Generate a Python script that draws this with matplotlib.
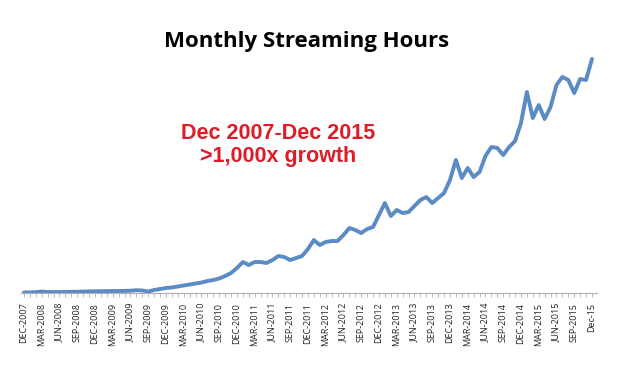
import matplotlib
matplotlib.use("Agg")
import matplotlib.pyplot as plt

# monthly streaming hours (relative units), Dec 2007 .. Dec 2015
hours = [0.5, 0.6, 0.8, 1.5, 1.0, 0.9, 1.0, 1.1, 1.2, 1.3, 1.4, 1.6,
         1.8, 1.8, 1.9, 2.0, 2.0, 2.1, 2.3, 2.8, 2.5, 1.5, 3, 4,
         5, 5.5, 6.5, 7.5, 8.5, 9.5, 10.5, 12, 13, 14.5, 17, 20,
         25, 31, 28, 31, 31, 30, 33, 37, 36, 33, 35, 37,
         44, 53, 48, 51, 52, 52, 58, 65, 63, 60, 64, 66,
         78, 90, 77, 83, 80, 81, 87, 93, 96, 90, 95, 100,
         113, 133, 115, 125, 116, 121, 137, 146, 145, 138, 146, 152,
         170, 201, 175, 188, 174, 186, 208, 216, 213, 200, 214, 213,
         234]

tick_labels = ["DEC-2007", "MAR-2008", "JUN-2008", "SEP-2008",
               "DEC-2008", "MAR-2009", "JUN-2009", "SEP-2009",
               "DEC-2009", "MAR-2010", "JUN-2010", "SEP-2010",
               "DEC-2010", "MAR-2011", "JUN-2011", "SEP-2011",
               "DEC-2011", "MAR-2012", "JUN-2012", "SEP-2012",
               "DEC-2012", "MAR-2013", "JUN-2013", "SEP-2013",
               "DEC-2013", "MAR-2014", "JUN-2014", "SEP-2014",
               "DEC-2014", "MAR-2015", "JUN-2015", "SEP-2015",
               "Dec-15"]

months = list(range(len(hours)))

fig = plt.figure(figsize=(6.17, 3.67), dpi=100)
ax = fig.add_axes([21 / 617, 0.2016, 576 / 617, 0.654])

ax.plot(months, hours, color="#5B8BC4", linewidth=2.8, solid_capstyle="round")

ax.set_xlim(-0.5, 96.85)
ax.set_ylim(0, 240)

for s in ["top", "right", "left"]:
    ax.spines[s].set_visible(False)
ax.spines["bottom"].set_color("#b0b0b0")
ax.spines["bottom"].set_linewidth(0.8)

ax.set_yticks([])
ax.set_xticks(range(0, 97, 3))
ax.set_xticklabels(tick_labels, rotation=90, fontsize=6.5, color="#222222",
                   family=["Liberation Sans Narrow", "Open Sans"])
ax.set_xticks(range(0, 97), minor=True)
ax.tick_params(axis="x", which="both", length=3, color="#b0b0b0", width=0.6, pad=4)

fig.text(0.497, 1 - 41 / 367, "Monthly Streaming Hours", ha="center", va="center",
         fontsize=16, fontweight="bold", family="Open Sans", color="black")

fig.text(278 / 617, 1 - 145 / 367, "Dec 2007-Dec 2015\n>1,000x growth",
         ha="center", va="center", fontsize=15.5,
         fontweight="bold", family="Liberation Sans", color="#E01B26",
         linespacing=1.1)

fig.savefig("out.png", dpi=100)
